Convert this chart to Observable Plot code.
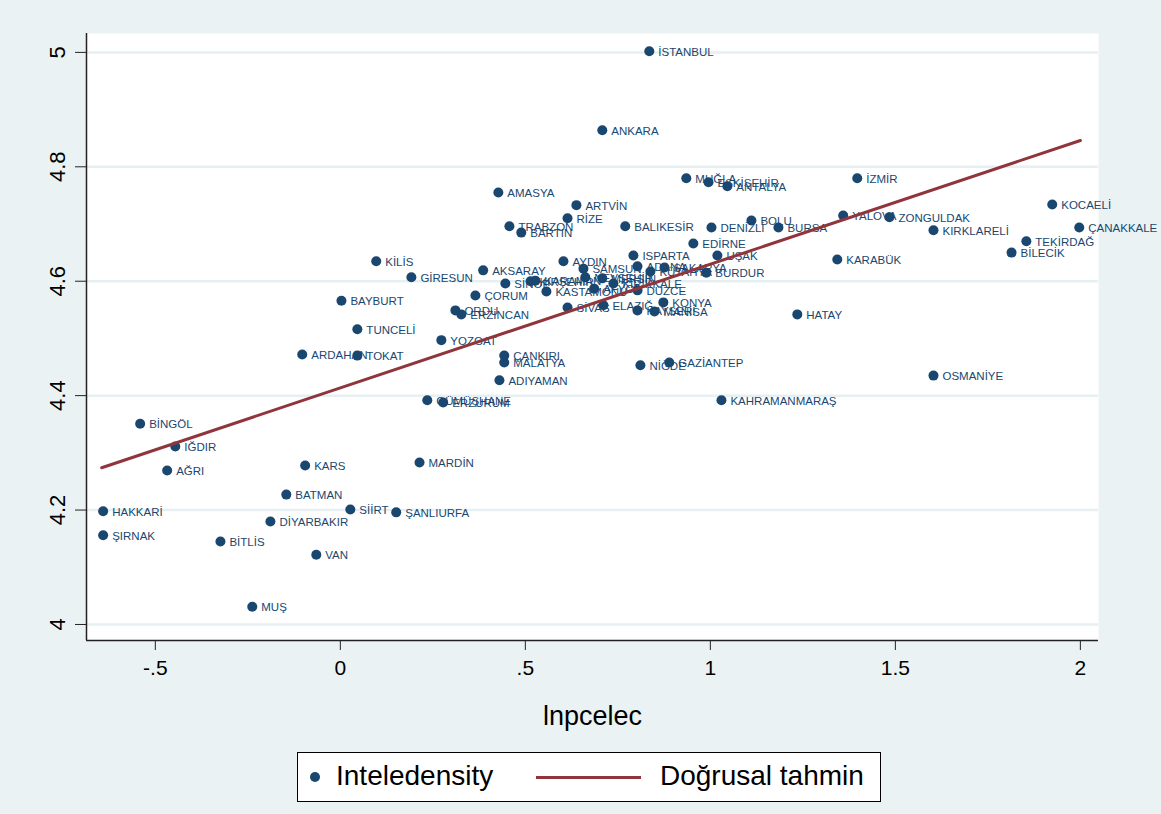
<!DOCTYPE html>
<html>
<head>
<meta charset="utf-8">
<script src="https://cdn.jsdelivr.net/npm/d3@7"></script>
<script src="https://cdn.jsdelivr.net/npm/@observablehq/plot@0.6"></script>
<style>
  html, body { margin: 0; padding: 0; background: #eaf2f3; }
  #wrap { position: relative; width: 1161px; height: 814px; font-family: "Liberation Sans", Arial, sans-serif; }
  #legend { position: absolute; left: 297px; top: 752px; width: 584px; height: 50px; background: #fff; border: 1px solid #000; box-sizing: border-box; }
  #legend .dot { position: absolute; left: 12px; top: 19px; width: 10px; height: 10px; border-radius: 50%; background: #1a476f; }
  #legend .t1 { position: absolute; left: 38px; top: 7px; font-size: 28px; color: #000; }
  #legend .ln { position: absolute; left: 238px; top: 23px; width: 105px; height: 3px; background: #90353b; }
  #legend .t2 { position: absolute; left: 362px; top: 7px; font-size: 28px; color: #000; }
</style>
</head>
<body>
<div id="wrap">
  <div id="chart"></div>
  <div id="legend"><span class="dot"></span><span class="t1">Inteledensity</span><span class="ln"></span><span class="t2">Doğrusal tahmin</span></div>
</div>
<script>
const provinces = ["İSTANBUL","ANKARA","MUĞLA","ESKİŞEHİR","ANTALYA","İZMİR","KOCAELİ","AMASYA","ARTVİN","RİZE",
  "TRABZON","BARTIN","BALIKESİR","DENİZLİ","BOLU","BURSA","YALOVA","ZONGULDAK","KIRKLARELİ","ÇANAKKALE",
  "TEKİRDAĞ","BİLECİK","EDİRNE","UŞAK","KARABÜK","HATAY","OSMANİYE","KAHRAMANMARAŞ","GAZİANTEP","NİĞDE",
  "ÇANKIRI","MALATYA","ADIYAMAN","GÜMÜŞHANE","ERZURUM","YOZGAT","KİLİS","GİRESUN","AKSARAY","BAYBURT",
  "ÇORUM","ORDU","ERZİNCAN","TUNCELİ","ARDAHAN","TOKAT","BİNGÖL","IĞDIR","AĞRI","KARS",
  "MARDİN","BATMAN","SİİRT","ŞANLIURFA","HAKKARİ","ŞIRNAK","DİYARBAKIR","BİTLİS","VAN","MUŞ",
  "SİNOP","KIRŞEHİR","KARAMAN","KASTAMONU","AYDIN","SAMSUN","NEVŞEHİR","AFYON","MERSİN","KIRIKKALE",
  "ISPARTA","ADANA","KÜTAHYA","SAKARYA","BURDUR","DÜZCE","SİVAS","ELAZIĞ","KAYSERİ","MANİSA","KONYA"];
const lnpcelec = [0.835,0.708,0.935,0.995,1.046,1.397,1.924,0.427,0.638,0.614,
  0.457,0.489,0.770,1.003,1.111,1.184,1.359,1.484,1.603,1.997,
  1.854,1.814,0.954,1.019,1.343,1.235,1.603,1.030,0.889,0.811,
  0.443,0.443,0.430,0.235,0.278,0.273,0.097,0.192,0.386,0.003,
  0.365,0.311,0.327,0.046,-0.103,0.046,-0.541,-0.446,-0.468,-0.095,
  0.214,-0.146,0.027,0.151,-0.641,-0.641,-0.189,-0.324,-0.065,-0.238,
  0.446,0.514,0.527,0.557,0.603,0.657,0.662,0.686,0.708,0.738,
  0.792,0.803,0.838,0.876,0.989,0.803,0.614,0.711,0.803,0.849,0.873];
const inteledensity = [5.002,4.864,4.780,4.773,4.766,4.780,4.734,4.755,4.733,4.710,
  4.696,4.685,4.696,4.694,4.706,4.694,4.715,4.712,4.689,4.694,
  4.670,4.650,4.666,4.645,4.638,4.542,4.435,4.392,4.458,4.453,
  4.470,4.458,4.427,4.392,4.388,4.497,4.635,4.607,4.619,4.566,
  4.575,4.549,4.542,4.516,4.472,4.470,4.351,4.311,4.269,4.278,
  4.283,4.227,4.201,4.196,4.198,4.156,4.180,4.145,4.122,4.031,
  4.596,4.600,4.601,4.582,4.635,4.622,4.607,4.587,4.605,4.596,
  4.645,4.626,4.617,4.624,4.615,4.584,4.554,4.558,4.549,4.547,4.563];
const fitX = [-0.645, 2.0];
const fitY = [4.274, 4.846];
const xTicks = [-0.5, 0, 0.5, 1, 1.5, 2];
const xTickLabels = ["-.5", "0", ".5", "1", "1.5", "2"];
const yTicks = [4, 4.2, 4.4, 4.6, 4.8, 5];
const yTickLabels = ["4", "4.2", "4.4", "4.6", "4.8", "5"];

const points = provinces.map((name, i) => ({name, x: lnpcelec[i], y: inteledensity[i]}));
const fit = fitX.map((x, i) => ({x, y: fitY[i]}));
const xDomain = [-0.686, 2.049];
const yDomain = [3.972, 5.033];

const chart = Plot.plot({
  width: 1161,
  height: 745,
  marginLeft: 86,
  marginRight: 63,
  marginTop: 33,
  marginBottom: 105,
  style: {fontFamily: "Liberation Sans, Arial, sans-serif", background: "transparent", color: "#000"},
  x: {domain: xDomain},
  y: {domain: yDomain},
  marks: [
    Plot.frame({fill: "#fff", stroke: "none"}),
    Plot.gridY(yTicks, {stroke: "#e6eff1", strokeOpacity: 1, strokeWidth: 2.5}),
    Plot.axisX({ticks: xTicks, tickFormat: d => xTickLabels[xTicks.indexOf(d)], tickSize: 10, tickPadding: 10, fontSize: 21, label: null, stroke: "#222"}),
    Plot.axisY({ticks: yTicks, tickFormat: d => yTickLabels[yTicks.indexOf(d)], tickSize: 11, tickPadding: 11, tickRotate: -90, fontSize: 22, label: null, stroke: "#222"}),
    Plot.ruleX([xDomain[0]], {stroke: "#222", strokeWidth: 1.5}),
    Plot.ruleY([yDomain[0]], {stroke: "#222", strokeWidth: 1.5}),
    Plot.text(["lnpcelec"], {frameAnchor: "bottom", dy: 84, fontSize: 27, fill: "#000"}),
    Plot.dot(points, {x: "x", y: "y", r: 5, fill: "#1a476f", stroke: "none"}),
    Plot.text(points, {x: "x", y: "y", text: "name", dx: 9, dy: 1, textAnchor: "start", fontSize: 11.5, fill: "#1a476f"}),
    Plot.line(fit, {x: "x", y: "y", stroke: "#90353b", strokeWidth: 3})
  ]
});
document.getElementById("chart").appendChild(chart);
</script>
</body>
</html>
